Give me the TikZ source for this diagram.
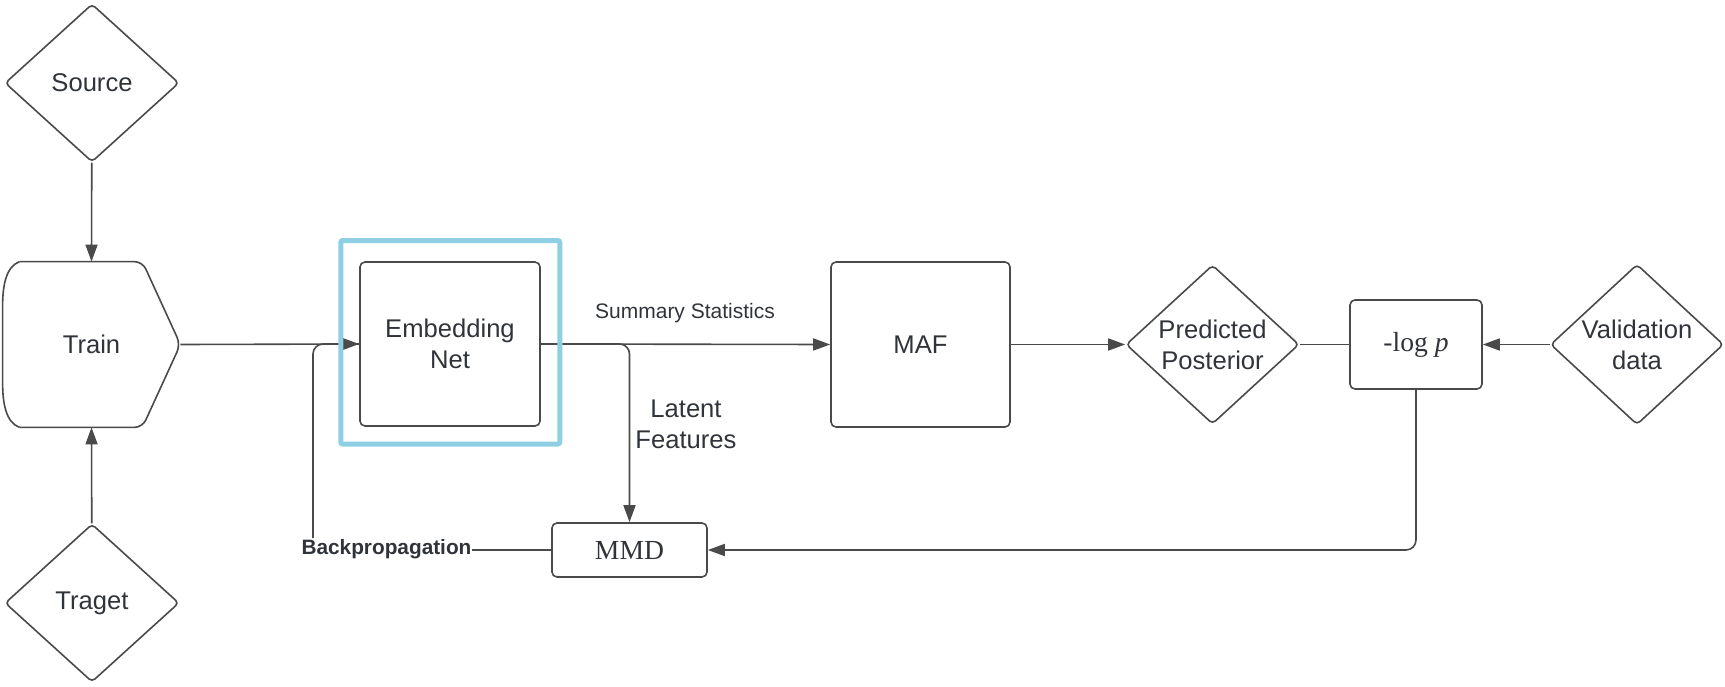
\documentclass[tikz,border=0pt]{standalone}
\usepackage{fontspec}
\setsansfont{Liberation Sans}
\newfontfamily\mathlikefont{Liberation Serif}
\usetikzlibrary{shapes.geometric,arrows.meta,calc}
\definecolor{ln}{HTML}{4A4A4A}
\definecolor{tx}{HTML}{30343A}
\definecolor{bl}{HTML}{8ECFE3}
\begin{document}
\begin{tikzpicture}[x=0.5pt,y=-0.5pt,
  font=\sffamily\fontsize{12.8}{15.5}\selectfont, text=tx,
  box/.style={draw=ln, line width=0.8pt, rounded corners=2.5pt, rectangle, inner sep=0pt, align=center},
  dia/.style={draw=ln, line width=0.8pt, diamond, rounded corners=2pt, inner sep=0pt, align=center,
              minimum width=87pt, minimum height=79pt},
  conn/.style={draw=ln, line width=0.8pt},
  arr/.style={conn, -{Triangle[length=8.5pt,width=6pt]}},
  smalllbl/.style={font=\sffamily\fontsize{10.5}{12}\selectfont},
  boldlbl/.style={font=\sffamily\bfseries\fontsize{10.4}{12}\selectfont, inner sep=0pt},
  serifbox/.style={box, font=\mathlikefont\fontsize{13.8}{16}\selectfont},
]
\useasboundingbox (0,0) rectangle (1725,686);

% nodes
\node[dia] (src) at (92,83) {Source};
\node[rectangle, inner sep=0pt, minimum width=88.5pt, minimum height=82.5pt] (train) at (91.5,344.5) {Train};
\node[dia] (tgt) at (92,603) {Traget};
\node[box, minimum width=90pt, minimum height=82pt] (emb) at (450,344) {Embedding\\Net};
\node[box, minimum width=89.5pt, minimum height=82.5pt] (maf) at (920.5,344.5) {MAF};
\node[serifbox, minimum width=77.5pt, minimum height=27pt] (mmd) at (629.5,550) {MMD};
\node[dia, minimum width=86.5pt, minimum height=79.5pt] (pp) at (1212.5,344.5) {Predicted\\Posterior};
\node[serifbox, minimum width=66pt, minimum height=44.5pt] (logp) at (1416,344.5) {-log {\itshape p}};
\node[dia, minimum width=86.5pt, minimum height=79.5pt] (val) at (1637,344.5) {Validation\\data};

% train outline (display shape)
\draw[conn, rounded corners=4pt]
  ($(train.north west)+(17,0)$) -- ($(train.north east)+(-38,0)$) -- (train.east)
  -- ($(train.south east)+(-38,0)$) -- ($(train.south west)+(17,0)$);
\draw[conn]
  ($(train.south west)+(17,0)$) .. controls ($(train.south west)+(3,-5)$) and ($(train.south west)+(0,-25)$) .. ($(train.south west)+(0,-45)$)
  -- ($(train.north west)+(0,45)$)
  .. controls ($(train.north west)+(0,25)$) and ($(train.north west)+(3,5)$) .. ($(train.north west)+(17,0)$);

% labels
\node[smalllbl] (ss) at (685,313) {Summary Statistics};
\node[align=center] (lf) at (686,424) {Latent\\Features};
\node[boldlbl] (bp) at (386.5,549) {Backpropagation};
\coordinate (bpup) at (313,538);

% connectors
\draw[arr] (src) -- (train.north);
\draw[arr] (tgt) -- (train.south);
\draw[conn, rounded corners=5pt] (bpup) |- (emb.west);
\draw[arr] (train.east) -- (emb.west);
\draw[arr] (emb.east) -- (maf.west);
\draw[arr, rounded corners=5pt] (emb.east) -| (mmd.north);
\draw[conn] (bp.east |- mmd.west) -- (mmd.west);
\draw[arr] (maf.east) -- (pp.west);
\draw[conn] (pp.east) -- (logp.west);
\draw[arr] (val.west) -- (logp.east);
\draw[arr, rounded corners=5pt] (logp.south) |- (mmd.east);

% highlight frame
\node[draw=bl, line width=2.5pt, rounded corners=1pt, rectangle, inner sep=0pt,
      minimum width=109.5pt, minimum height=101.75pt] (hl) at (450.25,342.25) {};
\end{tikzpicture}
\end{document}
